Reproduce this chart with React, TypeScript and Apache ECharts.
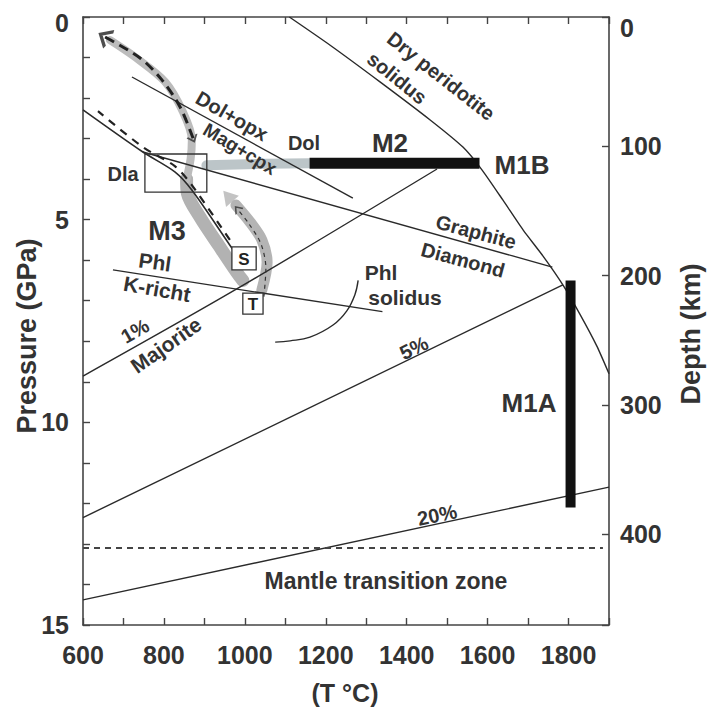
import React, { useEffect, useRef } from "react";
import * as echarts from "echarts";

// ---- tick labels ----
const tempTickLabels = [600, 800, 1000, 1200, 1400, 1600, 1800];
const pressureTickLabels = [0, 5, 10, 15];
const depthTickLabels = [0, 100, 200, 300, 400];

// ---- curves: [T (°C), P (GPa)] ----
const drySolidus = [[1110, 0], [1210, 0.69], [1334, 1.6], [1458, 2.54], [1539, 3.21], [1586, 3.77], [1638, 4.52], [1688, 5.26], [1737, 5.9], [1786, 6.61], [1828, 7.33], [1870, 8.12], [1900, 8.8]];
const dolOpxMagCpx = [[721, 1.48], [1267, 4.47]];
const graphiteDiamond = [[748, 3.33], [1760, 6.17]];
const majorite1 = [[600, 8.86], [980, 6.71], [1475, 3.75]];
const majorite5 = [[600, 12.35], [1786, 6.61]];
const majorite20 = [[600, 14.38], [1900, 11.6]];
const phlKRich = [[674, 6.24], [1340, 7.27]];
const phlSolidus = [[1280, 6.5], [1272, 6.85], [1252, 7.25], [1218, 7.6], [1161, 7.9], [1112, 7.99], [1075, 8.02]];
const transitionZone = [[600, 13.1], [1885, 13.1]];
const geotherm = [[600, 2.29], [748, 3.33], [827, 3.82], [869, 4.27], [963, 5.63], [985, 5.95]];
const m3BandLower = [[995, 6.5], [980, 6.3], [935, 5.63], [890, 4.95], [858, 4.35], [856, 4.0]];
const m3BandUpper = [[856, 4.0], [866, 3.5], [869, 3.03], [847, 2.34], [803, 1.6], [729, 0.99], [667, 0.57]];
const m2Band = [[905, 3.66], [1050, 3.62], [1161, 3.61]];
const exhumationBand = [[1042, 6.74], [1055, 6.05], [1042, 5.5], [1013, 5.06], [978, 4.64]];
const m3DashedUpper = [[872, 2.99], [840, 2.22], [795, 1.55], [741, 1.01], [654, 0.49]];
const m3DashedLower = [[963, 5.5], [869, 4.15], [827, 3.68], [748, 3.21], [637, 2.32]];
const exhumationDashed = [[1047, 6.9], [1052, 6.2], [1040, 5.6], [1010, 5.1], [985, 4.78]];
const m2Bar = [[1160, 3.61], [1580, 3.61]];
const m1aBar = [[1805, 6.5], [1805, 12.1]];
// boxes: [Tmin, Pmin, Tmax, Pmax]
const boxes = [[753, 3.38, 906, 4.32], [968, 5.67, 1028, 6.24], [995, 6.81, 1045, 7.33]];
const boxLabels = ["", "S", "T"];
const boxFilled = [false, true, true];
const arrowTipUpper = [654, 0.49];
const arrowTipBand = [958, 4.42];
const arrowTipSmall = [982, 4.74];
const arrowMarkV = [872, 3.0];

const FONT = '"Liberation Sans", Arial, sans-serif';
const INK = "#2a2a2a";

function lineSeries(data: number[][], extra: any = {}) {
  return {
    type: "line",
    data,
    symbol: "none",
    silent: true,
    lineStyle: { color: INK, width: 1.4, ...(extra.lineStyle || {}) },
    z: extra.z ?? 3,
    smooth: extra.smooth ?? false,
  };
}

export default function App() {
  const ref = useRef<HTMLDivElement>(null);

  useEffect(() => {
    if (!ref.current) return;
    const chart = echarts.init(ref.current, undefined, { renderer: "svg" });

    const t = (text: string, x: number, y: number, size: number, rotDeg = 0) => ({
      type: "text",
      x,
      y,
      rotation: (rotDeg * Math.PI) / 180,
      z: 100,
      silent: true,
      style: {
        text,
        fill: "#333",
        font: `bold ${size}px ${FONT}`,
        align: "center",
        verticalAlign: "middle",
      },
    });

    const chevron = "path://M0 10 L10 0 L20 10";

    const axisLineStyle = { onZero: false, lineStyle: { color: "#444", width: 1.6 } };
    const tickStyle = { inside: true, length: 7, lineStyle: { color: "#444", width: 1.4 } };
    const labelStyle = { fontSize: 25, fontFamily: FONT, fontWeight: "bold", color: "#333" };

    const option: any = {
      animation: false,
      backgroundColor: "#ffffff",
      grid: { left: 83, right: 101, top: 17, bottom: 88, containLabel: false },
      xAxis: [
        {
          type: "value", min: 600, max: 1900, interval: 100, position: "bottom",
          axisLine: axisLineStyle, axisTick: tickStyle,
          axisLabel: { ...labelStyle, margin: 17, formatter: (v: number) => (tempTickLabels.includes(v) ? String(v) : "") },
          splitLine: { show: false },
        },
        {
          type: "value", min: 600, max: 1900, interval: 100, position: "top",
          axisLine: axisLineStyle, axisTick: tickStyle, axisLabel: { show: false }, splitLine: { show: false },
        },
      ],
      yAxis: [
        {
          type: "value", min: 0, max: 15, interval: 1, inverse: true, position: "left",
          axisLine: axisLineStyle, axisTick: tickStyle,
          axisLabel: {
            ...labelStyle, margin: 14,
            formatter: (v: number) => (pressureTickLabels.includes(v) ? (v === 0 ? "{z|0}" : String(v)) : ""),
            rich: { z: { ...labelStyle, padding: [12, 0, 0, 0] } },
          },
          splitLine: { show: false },
        },
        {
          type: "value", min: 0, max: 470, interval: 100, inverse: true, position: "right",
          axisLine: axisLineStyle, axisTick: tickStyle,
          axisLabel: {
            ...labelStyle, margin: 11,
            formatter: (v: number) => (depthTickLabels.includes(v) ? (v === 0 ? "{z|0}" : String(v)) : ""),
            rich: { z: { ...labelStyle, padding: [22, 0, 0, 0] } },
          },
          splitLine: { show: false },
        },
      ],
      series: [
        // gray P-T paths
        lineSeries(m3BandLower, { lineStyle: { color: "#b2b2b2", width: 13, cap: "round", join: "round" }, z: 1, smooth: 0.3 }),
        lineSeries(m3BandUpper, { lineStyle: { color: "#bcbcbc", width: 8, cap: "round", join: "round" }, z: 1, smooth: 0.3 }),
        lineSeries(m2Band, { lineStyle: { color: "#bcc5c8", width: 10, cap: "round", join: "round" }, z: 1 }),
        lineSeries(exhumationBand, { lineStyle: { color: "#b4b4b4", width: 11, cap: "round", join: "round" }, z: 1, smooth: 0.3 }),
        // phase boundaries and isopleths
        lineSeries(drySolidus, { smooth: 0.2 }),
        lineSeries(dolOpxMagCpx),
        lineSeries(graphiteDiamond),
        lineSeries(majorite1, { smooth: 0.3 }),
        lineSeries(majorite5),
        lineSeries(majorite20),
        lineSeries(phlKRich),
        lineSeries(phlSolidus, { smooth: 0.4 }),
        lineSeries(transitionZone, { lineStyle: { color: "#444", width: 2, type: [6, 5] } }),
        lineSeries(geotherm, { smooth: 0.3, lineStyle: { width: 1.6 } }),
        // dashed path lines
        lineSeries(m3DashedUpper, { smooth: 0.3, lineStyle: { color: "#222", width: 3, type: [10, 6] }, z: 4 }),
        lineSeries(m3DashedLower, { smooth: 0.3, lineStyle: { color: "#222", width: 2.2, type: [8, 7] }, z: 4 }),
        lineSeries(exhumationDashed, { smooth: 0.3, lineStyle: { color: "#333", width: 1.2, type: [4, 4] }, z: 4 }),
        // thick bars
        lineSeries(m2Bar, { lineStyle: { color: "#111", width: 11, cap: "butt" }, z: 5 }),
        lineSeries(m1aBar, { lineStyle: { color: "#111", width: 10, cap: "butt" }, z: 5 }),
        // boxes
        {
          type: "custom",
          silent: true,
          z: 10,
          data: boxes,
          encode: { x: [0, 2], y: [1, 3] },
          renderItem: (params: any, api: any) => {
            const i = params.dataIndex;
            const a = api.coord([api.value(0), api.value(1)]);
            const b = api.coord([api.value(2), api.value(3)]);
            const x = Math.min(a[0], b[0]);
            const y = Math.min(a[1], b[1]);
            const w = Math.abs(b[0] - a[0]);
            const h = Math.abs(b[1] - a[1]);
            return {
              type: "group",
              children: [
                {
                  type: "rect",
                  shape: { x, y, width: w, height: h },
                  style: { fill: boxFilled[i] ? "#ffffff" : "none", stroke: "#333", lineWidth: 1.3 },
                },
                {
                  type: "text",
                  style: {
                    text: boxLabels[i],
                    x: x + w / 2,
                    y: y + h / 2 + 1,
                    align: "center",
                    verticalAlign: "middle",
                    fill: "#222",
                    font: `bold 17px ${FONT}`,
                  },
                },
              ],
            };
          },
        },
        // arrowheads
        {
          type: "scatter",
          silent: true,
          z: 7,
          data: [
            { value: arrowTipUpper, symbol: chevron, symbolSize: [18, 10], symbolRotate: 59, itemStyle: { color: "rgba(0,0,0,0)", borderColor: "#222", borderWidth: 3 } },
            { value: arrowTipBand, symbol: "triangle", symbolSize: [17, 14], symbolRotate: 41, itemStyle: { color: "#b4b4b4" } },
            { value: arrowTipSmall, symbol: chevron, symbolSize: [9, 6], symbolRotate: 41, itemStyle: { color: "rgba(0,0,0,0)", borderColor: "#333", borderWidth: 1.4 } },
            { value: arrowMarkV, symbol: chevron, symbolSize: [10, 6], symbolRotate: 203, itemStyle: { color: "rgba(0,0,0,0)", borderColor: "#333", borderWidth: 1.6 } },
          ],
        },
      ],
      graphic: [
        t("Pressure (GPa)", 27, 336, 27, 90),
        t("Depth (km)", 691, 334, 27, 90),
        t("(T °C)", 345, 693, 25),
        t("Dry peridotite", 441, 76, 20, -38),
        t("solidus", 397, 78, 20, -39),
        t("Dol+opx", 232, 116, 20, -30),
        t("Mag+cpx", 240, 149, 19, -31),
        t("Dol", 304, 143, 20),
        t("M2", 390, 143, 26),
        t("M1B", 522, 165, 26),
        t("Graphite", 476, 232, 20, -15),
        t("Diamond", 463, 260, 20, -15),
        t("Dla", 123, 174, 20),
        t("M3", 167, 231, 27),
        t("Phl", 155, 262, 21, -8),
        t("K-richt", 157, 289, 21, -10),
        t("Phl", 381, 272, 21),
        t("solidus", 405, 297, 21),
        t("1%", 135, 331, 20, 30),
        t("Majorite", 166, 345, 21, 35),
        t("5%", 414, 348, 20, 26),
        t("20%", 437, 515, 20, 12),
        t("M1A", 529, 403, 26),
        t("Mantle transition zone", 386, 581, 23),
      ],
    };

    chart.setOption(option);
    return () => chart.dispose();
  }, []);

  return <div ref={ref} style={{ position: "absolute", left: 0, top: 0, width: 710, height: 713 }} />;
}
